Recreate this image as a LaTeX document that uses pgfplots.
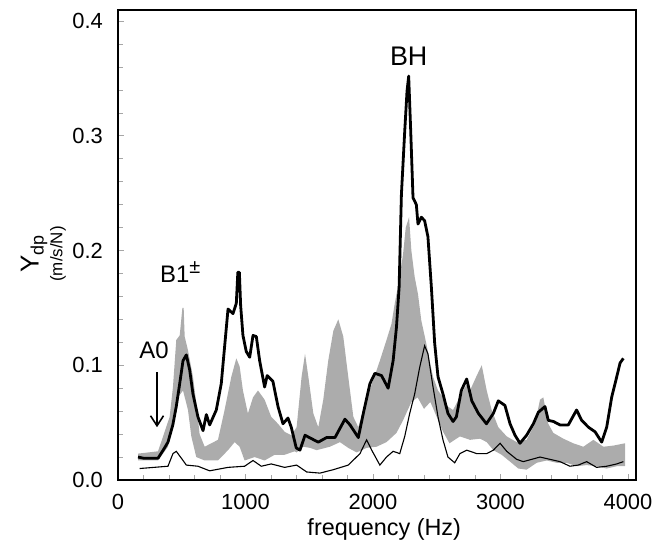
\documentclass[border=0pt]{standalone}
\usepackage{pgfplots}
\pgfplotsset{compat=1.18}
\usepgfplotslibrary{fillbetween}
\usetikzlibrary{arrows.meta}
\usepackage{fontspec}
\setmainfont{Liberation Sans}
\definecolor{bandgray}{RGB}{172,172,172}

\pgfplotstableread{
x y
157 0.020
200 0.019
314 0.019
360 0.027
392 0.033
430 0.048
457 0.064
484 0.084
510 0.104
536 0.109
562 0.096
588 0.075
627 0.055
667 0.043
693 0.057
719 0.048
771 0.061
810 0.084
836 0.116
863 0.149
902 0.145
928 0.154
940 0.181
952 0.181
962 0.152
980 0.126
1006 0.112
1033 0.107
1059 0.126
1085 0.125
1111 0.104
1150 0.081
1170 0.091
1215 0.086
1255 0.064
1294 0.049
1333 0.054
1359 0.046
1398 0.028
1427 0.026
1467 0.039
1518 0.036
1571 0.033
1636 0.037
1702 0.037
1780 0.053
1820 0.048
1885 0.037
1924 0.058
1976 0.084
2015 0.093
2067 0.091
2119 0.080
2158 0.104
2184 0.133
2205 0.168
2223 0.249
2249 0.304
2267 0.339
2280 0.352
2296 0.304
2314 0.246
2340 0.240
2353 0.223
2379 0.229
2405 0.226
2431 0.212
2458 0.168
2484 0.119
2510 0.090
2549 0.075
2588 0.058
2628 0.051
2654 0.055
2693 0.078
2735 0.088
2775 0.069
2827 0.058
2890 0.049
2944 0.058
2983 0.069
3035 0.065
3075 0.049
3114 0.039
3153 0.032
3205 0.039
3258 0.049
3297 0.059
3349 0.064
3375 0.052
3415 0.051
3467 0.048
3532 0.048
3597 0.061
3637 0.052
3690 0.046
3742 0.042
3794 0.033
3833 0.046
3872 0.072
3912 0.090
3938 0.102
3964 0.106
}\thick

\pgfplotstableread{
x y
170 0.010
392 0.012
431 0.023
457 0.025
497 0.019
536 0.013
627 0.012
719 0.008
863 0.011
993 0.012
1059 0.017
1124 0.012
1202 0.014
1307 0.011
1401 0.013
1480 0.007
1584 0.006
1689 0.009
1806 0.013
1898 0.023
1950 0.035
1990 0.026
2054 0.013
2106 0.020
2158 0.025
2210 0.023
2249 0.038
2288 0.058
2327 0.075
2366 0.098
2405 0.117
2431 0.110
2471 0.081
2510 0.055
2549 0.035
2588 0.020
2641 0.015
2682 0.023
2735 0.026
2814 0.023
2892 0.023
2944 0.026
2997 0.032
3049 0.025
3127 0.018
3179 0.016
3245 0.018
3310 0.020
3388 0.018
3467 0.016
3545 0.012
3610 0.013
3676 0.016
3754 0.011
3833 0.012
3912 0.014
3964 0.016
}\thin

\pgfplotstableread{
x y
157 0.023
314 0.025
405 0.055
431 0.081
457 0.122
484 0.126
505 0.150
515 0.150
523 0.125
549 0.113
588 0.090
614 0.067
640 0.040
680 0.029
784 0.035
836 0.061
889 0.090
928 0.106
954 0.099
980 0.078
1019 0.058
1059 0.072
1098 0.078
1150 0.070
1202 0.055
1255 0.049
1307 0.042
1359 0.039
1401 0.046
1440 0.090
1467 0.110
1493 0.090
1532 0.058
1571 0.046
1610 0.070
1649 0.104
1689 0.130
1728 0.140
1767 0.125
1806 0.090
1846 0.055
1885 0.046
1924 0.061
1963 0.075
2002 0.087
2054 0.104
2106 0.122
2145 0.136
2171 0.154
2210 0.177
2236 0.197
2257 0.220
2283 0.229
2301 0.200
2327 0.177
2353 0.162
2379 0.139
2418 0.119
2444 0.104
2471 0.090
2510 0.078
2549 0.072
2588 0.064
2628 0.061
2680 0.072
2732 0.083
2761 0.078
2814 0.091
2853 0.100
2892 0.078
2931 0.061
2983 0.046
3049 0.038
3127 0.033
3205 0.035
3271 0.049
3310 0.070
3336 0.072
3375 0.049
3415 0.041
3493 0.036
3571 0.032
3650 0.029
3729 0.035
3807 0.029
3886 0.030
3977 0.032
}\bandup

\pgfplotstableread{
x y
157 0.017
314 0.017
392 0.029
431 0.049
470 0.072
510 0.078
549 0.061
575 0.038
614 0.020
680 0.017
784 0.017
863 0.026
915 0.033
954 0.029
993 0.017
1072 0.020
1150 0.017
1229 0.022
1307 0.022
1385 0.025
1401 0.024
1454 0.029
1506 0.028
1558 0.026
1662 0.029
1741 0.033
1806 0.028
1872 0.024
1950 0.028
2028 0.029
2106 0.033
2184 0.041
2236 0.052
2301 0.068
2350 0.072
2400 0.062
2450 0.068
2500 0.055
2550 0.042
2600 0.032
2682 0.038
2761 0.035
2840 0.036
2892 0.033
2944 0.026
3009 0.022
3075 0.016
3140 0.010
3205 0.009
3284 0.015
3362 0.017
3441 0.015
3519 0.015
3597 0.012
3676 0.013
3754 0.012
3833 0.010
3912 0.012
3977 0.012
}\bandlo

\begin{document}
\begin{tikzpicture}
\begin{axis}[
  name=ax,
  scale only axis,
  width=518bp, height=470bp,
  xmin=0, xmax=4063, ymin=0, ymax=0.4096,
  xtick={0,1000,2000,3000,4000},
  ytick={0,0.1,0.2,0.3,0.4},
  minor x tick num=4, minor y tick num=4,
  xtick pos=bottom, ytick pos=left,
  tick align=inside,
  major tick length=6bp, minor tick length=5bp,
  tick style={gray!70, line width=0.6bp},
  axis line style={line width=1.5bp, black},
  /pgf/number format/assume math mode=true,
  /pgf/number format/1000 sep={},
  ticklabel style={font=\fontsize{22}{26}\selectfont},
  yticklabel style={/pgf/number format/fixed, /pgf/number format/fixed zerofill, /pgf/number format/precision=1, inner sep=0pt, xshift=-15bp},
  xticklabel style={inner sep=0pt, yshift=-14bp},
  xlabel={frequency (Hz)},
  xlabel style={font=\fontsize{23.5}{26}\selectfont, inner sep=0pt, at={(axis description cs:0.514,-0.119)}, anchor=base},
  ylabel={Y\raisebox{-5bp}{\fontsize{18}{18}\selectfont dp}\\{\fontsize{17}{24}\selectfont (m/s/N)}},
  ylabel style={font=\fontsize{26}{24}\selectfont, align=center, at={(axis description cs:-0.100,0.481)}, anchor=south, inner sep=0pt},
]
\addplot[name path=up, draw=none, forget plot] table[x=x,y=y] {\bandup};
\addplot[name path=lo, draw=none, forget plot] table[x=x,y=y] {\bandlo};
\addplot[bandgray, draw=none] fill between[of=up and lo];
\addplot[black, line width=1.1bp] table[x=x,y=y] {\thin};
\addplot[black, line width=2.8bp, line join=round] table[x=x,y=y] {\thick};
\node[font=\fontsize{27}{30}\selectfont, anchor=base] at (axis cs:2280,0.3615) {BH};
\node[font=\fontsize{24}{27}\selectfont, anchor=base] at (axis cs:490,0.172) {B1\textsuperscript{\fontsize{20}{20}\selectfont ±}};
\node[font=\fontsize{24}{27}\selectfont, anchor=base] at (axis cs:282,0.106) {A0};
\draw[-{Straight Barb[length=10bp,width=13bp]}, line width=1.6bp] (axis cs:306,0.094) -- (axis cs:306,0.046);
\end{axis}
\pgfresetboundingbox
\useasboundingbox ([shift={(-118bp,-62bp)}]ax.south west) rectangle ([shift={(27bp,10bp)}]ax.north east);
\end{tikzpicture}
\end{document}
